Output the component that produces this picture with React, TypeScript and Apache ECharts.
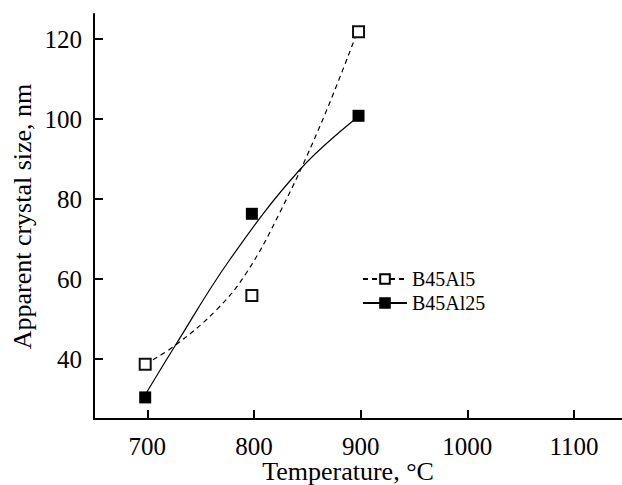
import React, { useEffect, useRef } from "react";
import * as echarts from "echarts";

const seriesNames = ["B45Al5", "B45Al25"];
const tempX = [698, 798, 898];
const al5Values = [38.7, 55.9, 121.8];
const al25Values = [30.4, 76.3, 100.8];

// fitted curves
const fitAl5X = [698, 726.5, 764.7, 792.8, 824, 861.5, 895.2];
const fitAl5Y = [38.7, 43.5, 52.25, 61.5, 76.5, 98, 120.6];
const fitAl25X = [699, 726.5, 777.1, 842.7, 895];
const fitAl25Y = [31.5, 43.5, 64.75, 87.25, 100];

const xTicks = [700, 800, 900, 1000, 1100];
const yTicks = [40, 60, 80, 100, 120];

const FONT = "Liberation Serif";

export default function App() {
  const ref = useRef<HTMLDivElement>(null);
  useEffect(() => {
    if (!ref.current) return;
    const chart = echarts.init(ref.current, undefined, { renderer: "svg" });
    const zip = (xs: number[], ys: number[]) => xs.map((x, i) => [x, ys[i]]);
    chart.setOption({
      animation: false,
      backgroundColor: "#fff",
      textStyle: { fontFamily: FONT, color: "#000" },
      grid: { left: 94, top: 14, right: 0, bottom: 66, containLabel: false, outerBoundsMode: "none" },
      legend: {
        left: 357,
        top: 264,
        orient: "vertical",
        itemWidth: 44,
        itemHeight: 12,
        itemGap: 4,
        data: seriesNames,
        textStyle: { fontFamily: FONT, fontSize: 20, color: "#000" },
      },
      xAxis: {
        type: "value",
        min: 650,
        max: 1145,
        name: "Temperature, °C",
        nameLocation: "middle",
        nameGap: 40,
        nameMoveOverlap: false,
        nameTextStyle: { fontFamily: FONT, fontSize: 26, lineHeight: 24, color: "#000", padding: [0, 20, 0, 0] },
        axisLine: { lineStyle: { color: "#000", width: 2 } },
        axisTick: { inside: true, length: 9, lineStyle: { color: "#000", width: 2 }, customValues: xTicks },
        axisLabel: {
          fontFamily: FONT, fontSize: 25, lineHeight: 18, color: "#000", margin: 18, customValues: xTicks,
          formatter: (v: number) => String(v),
        },
        splitLine: { show: false },
      },
      yAxis: {
        type: "value",
        min: 25,
        max: 126.25,
        name: "Apparent crystal size, nm",
        nameLocation: "middle",
        nameGap: 59,
        nameMoveOverlap: false,
        nameTextStyle: { fontFamily: FONT, fontSize: 26, color: "#000" },
        axisLine: { show: true, lineStyle: { color: "#000", width: 2 } },
        axisTick: { show: true, inside: true, length: 9, lineStyle: { color: "#000", width: 2 }, customValues: yTicks },
        axisLabel: {
          fontFamily: FONT, fontSize: 25, color: "#000", margin: 12, customValues: yTicks,
          formatter: (v: number) => String(v),
        },
        splitLine: { show: false },
      },
      series: [
        {
          name: seriesNames[0],
          type: "line",
          data: zip(fitAl5X, fitAl5Y),
          smooth: 0.4,
          symbol: "rect",
          symbolSize: 11,
          showSymbol: false,
          lineStyle: { color: "#000", width: 1.2, type: [5, 4] },
          itemStyle: { color: "#fff", borderColor: "#000", borderWidth: 2 },
          z: 2,
        },
        {
          name: seriesNames[1],
          type: "line",
          data: zip(fitAl25X, fitAl25Y),
          smooth: 0.4,
          symbol: "rect",
          symbolSize: 11,
          showSymbol: false,
          lineStyle: { color: "#000", width: 1.2 },
          itemStyle: { color: "#000", borderColor: "#000", borderWidth: 1 },
          z: 2,
        },
        {
          name: seriesNames[0] + " data",
          type: "scatter",
          data: zip(tempX, al5Values),
          symbol: "rect",
          symbolSize: 11,
          itemStyle: { color: "#fff", borderColor: "#111", borderWidth: 2, opacity: 1 },
          z: 3,
        },
        {
          name: seriesNames[1] + " data",
          type: "scatter",
          data: zip(tempX, al25Values),
          symbol: "rect",
          symbolSize: 12,
          itemStyle: { color: "#000", opacity: 1 },
          z: 3,
        },
      ],
    });
    return () => chart.dispose();
  }, []);
  return (
    <div
      ref={ref}
      style={{ position: "fixed", left: 0, top: 0, width: 622, height: 485 }}
    />
  );
}
